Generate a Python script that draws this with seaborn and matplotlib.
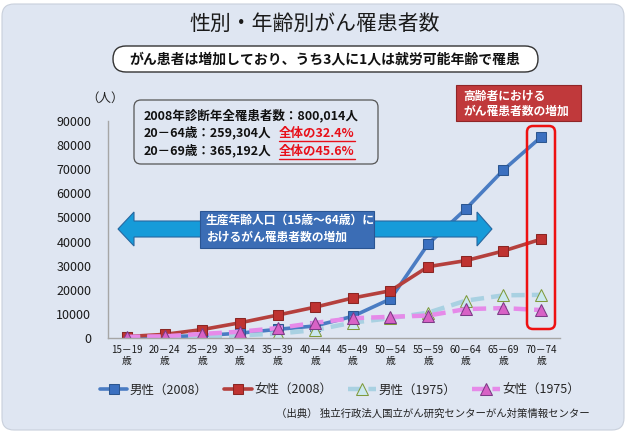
import numpy as np
import pandas as pd
import matplotlib
matplotlib.use('Agg')
import matplotlib.pyplot as plt
import seaborn as sns
from matplotlib.patches import FancyBboxPatch, Polygon, Rectangle
from matplotlib.lines import Line2D

# data
ages = ['15－19', '20－24', '25－29', '30－34', '35－39', '40－44',
        '45－49', '50－54', '55－59', '60－64', '65－69', '70－74']
male_2008 = [300, 500, 1000, 2000, 3600, 5000, 9000, 16200, 39000, 53500, 69700, 83400]
female_2008 = [600, 1500, 3500, 6300, 9500, 12800, 16600, 19600, 29600, 32100, 36100, 41000]
male_1975 = [200, 300, 600, 1100, 1800, 3300, 6400, 8200, 10500, 15500, 17700, 17900]
female_1975 = [500, 700, 1700, 2600, 4100, 6300, 8200, 8800, 9300, 12000, 12400, 11600]
y_ticks = list(range(0, 90001, 10000))

sns.set_style('white')
plt.rcParams['font.family'] = ['Noto Sans CJK JP', 'DejaVu Sans']

W, H = 630, 434
fig = plt.figure(figsize=(W / 100, H / 100), dpi=100, facecolor='white')
tr = fig.dpi_scale_trans


def P(x, y):
    # pixel (top-left origin) -> inches
    return (x / 100, (H - y) / 100)


# background panel
bg = FancyBboxPatch(P(2, 430), 6.22, 4.26, boxstyle='round,pad=0,rounding_size=0.12',
                    transform=tr, facecolor='#dfe6f2', edgecolor='#c9d0dc', lw=0.8, zorder=-10)
fig.add_artist(bg)

ax = fig.add_axes([108 / W, 1 - 338 / H, (560 - 108) / W, (338 - 121) / H])
ax.set_facecolor('none')

x = np.arange(len(ages))
series = [
    ('男性（2008）', male_2008, dict(color='#4a7cc3', lw=2.6, linestyle='-', marker='s', markersize=7.5,
                                 markerfacecolor='#3b70c0', markeredgecolor='#2c568f')),
    ('女性（2008）', female_2008, dict(color='#b5403d', lw=2.6, linestyle='-', marker='s', markersize=7.5,
                                   markerfacecolor='#bf3331', markeredgecolor='#8a2624')),
    ('男性（1975）', male_1975, dict(color='#a9d1e2', lw=3.2, linestyle=(0, (3, 1.6)), marker='^', markersize=9,
                                 markerfacecolor='#cbe8ef', markeredgecolor='#7f9a3c')),
    ('女性（1975）', female_1975, dict(color='#e68ae9', lw=3.2, linestyle=(0, (3, 1.6)), marker='^', markersize=9,
                                   markerfacecolor='#d862c6', markeredgecolor='#7b3b86')),
]
for label, vals, kw in series:
    df = pd.DataFrame({'x': x, 'y': vals})
    sns.lineplot(data=df, x='x', y='y', ax=ax, label=label, sort=False, **kw)

ax.set_xlim(-0.5, len(ages) - 0.5)
ax.set_ylim(0, 90000)
ax.set_yticks(y_ticks)
ax.set_yticklabels([str(v) for v in y_ticks], fontsize=9, color='#1a1a1a')
ax.set_xticks(x)
ax.set_xticklabels([a + '\n歳' for a in ages], fontsize=7, linespacing=1.15, color='#1a1a1a')
ax.tick_params(axis='both', length=0)
ax.tick_params(axis='y', pad=12)
ax.tick_params(axis='x', pad=5)
ax.set_xlabel('')
ax.set_ylabel('')
for s in ['top', 'right']:
    ax.spines[s].set_visible(False)
for s in ['left', 'bottom']:
    ax.spines[s].set_color('#a6a6a6')
    ax.spines[s].set_linewidth(1)

handles, labels = ax.get_legend_handles_labels()
ax.legend(handles, labels, loc='center', bbox_to_anchor=(340 / W, 1 - 390 / H),
          bbox_transform=fig.transFigure, ncol=4, frameon=False, fontsize=9,
          handlelength=2.2, columnspacing=1.3, handletextpad=0.2)

# titles
fig.text(*P(315, 24), '性別・年齢別がん罹患者数', transform=tr, ha='center', va='center',
         fontsize=15, color='#1a1a1a')
sub = FancyBboxPatch(P(113, 72), 4.25, 0.26, boxstyle='round,pad=0,rounding_size=0.13',
                     transform=tr, facecolor='white', edgecolor='#333333', lw=1.0, zorder=5)
fig.add_artist(sub)
fig.text(*P(325, 59), 'がん患者は増加しており、うち3人に1人は就労可能年齢で罹患', transform=tr,
         ha='center', va='center', fontsize=10, fontweight='bold', color='#111111', zorder=6)
fig.text(*P(105, 98), '（人）', transform=tr, ha='center', va='center', fontsize=9, color='#222222')

# info box
info = FancyBboxPatch(P(134, 164), 2.44, 0.64, boxstyle='round,pad=0,rounding_size=0.07',
                      transform=tr, facecolor='none', edgecolor='#555555', lw=0.9, zorder=5)
fig.add_artist(info)
fig.text(*P(144, 116), '2008年診断年全罹患者数：800,014人', transform=tr, ha='left', va='center',
         fontsize=9, fontweight='bold', color='#111111', zorder=6)
rows = [('20－64歳：259,304人', '全体の32.4%', 133), ('20－69歳：365,192人', '全体の45.6%', 151)]
red_texts = []
for left, right, yy in rows:
    fig.text(*P(144, yy), left, transform=tr, ha='left', va='center', fontsize=9,
             fontweight='bold', color='#111111', zorder=6)
    t = fig.text(*P(279, yy), right, transform=tr, ha='left', va='center', fontsize=9,
                 fontweight='bold', color='#e8101a', zorder=6)
    red_texts.append((t, yy))
fig.canvas.draw()
for t, yy in red_texts:
    bb = t.get_window_extent()
    fig.add_artist(Line2D([bb.x0 / 100, bb.x1 / 100], [(H - yy - 8) / 100] * 2, transform=tr,
                          color='#e8101a', lw=1.0, zorder=6))

# double arrow (working-age)
arrow_pts = [(118, 229), (134, 212), (134, 221), (477, 221), (477, 212), (492, 229),
             (477, 246), (477, 237), (134, 237), (134, 246)]
fig.add_artist(Polygon([P(a, b) for a, b in arrow_pts], closed=True, transform=tr,
                       facecolor='#169bd9', edgecolor='#2767a0', lw=0.8, zorder=5))
fig.add_artist(Rectangle(P(200, 248), 1.74, 0.37, transform=tr, facecolor='#3b6db5',
                         edgecolor='#2a5593', lw=0.8, zorder=6))
fig.text(*P(206, 220), '生産年齢人口（15歳～64歳）に', transform=tr, ha='left', va='center',
         fontsize=8.5, fontweight='bold', color='white', zorder=7)
fig.text(*P(206, 237), 'おけるがん罹患者数の増加', transform=tr, ha='left', va='center',
         fontsize=8.5, fontweight='bold', color='white', zorder=7)

# elderly box and outline
fig.add_artist(Rectangle(P(456, 121), 1.25, 0.36, transform=tr, facecolor='#c0393b',
                         edgecolor='#8f2527', lw=0.8, zorder=6))
fig.text(*P(463, 96), '高齢者における', transform=tr, ha='left', va='center',
         fontsize=8.5, fontweight='bold', color='white', zorder=7)
fig.text(*P(463, 111), 'がん罹患者数の増加', transform=tr, ha='left', va='center',
         fontsize=8.5, fontweight='bold', color='white', zorder=7)
fig.add_artist(FancyBboxPatch(P(527, 329), 0.28, 2.03, boxstyle='round,pad=0,rounding_size=0.06',
                              transform=tr, facecolor='none', edgecolor='#ee1111', lw=1.8, zorder=6))

fig.text(*P(590, 414), '（出典） 独立行政法人国立がん研究センターがん対策情報センター', transform=tr,
         ha='right', va='center', fontsize=7.5, color='#222222')

fig.savefig('out.png', dpi=100, facecolor='white')
